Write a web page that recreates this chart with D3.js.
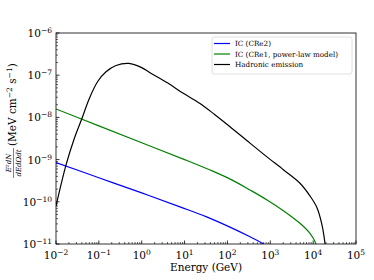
<!DOCTYPE html>
<html><head><meta charset="utf-8">
<script src="https://cdn.jsdelivr.net/npm/d3@7"></script>
<style>body{margin:0;background:#fff}svg{display:block}text{font-family:"DejaVu Serif",serif;fill:#000}</style>
</head><body><svg id="c" width="374" height="280"></svg>
<script>
// log10 of energy (GeV) and log10 of flux (MeV cm^-2 s^-1)
const hadronicLogE = [-2, -1.767, -1.573, -1.393, -1.222, -1.027, -0.833, -0.6, -0.3, 0.0, 0.193, 0.6, 0.97, 1.36, 1.7, 2.06, 2.527, 2.916, 3.305, 3.693, 3.926, 4.08, 4.198, 4.276, 4.295];
const hadronicLogF = [-10.1, -9.13, -8.50, -8.02, -7.55, -7.15, -6.92, -6.77, -6.72, -6.82, -6.94, -7.18, -7.43, -7.67, -7.93, -8.22, -8.61, -8.93, -9.24, -9.56, -9.86, -10.12, -10.51, -10.98, -11.2];
const icCRe1LogE = [-2, -1, 0, 1, 1.67, 2.1, 2.527, 2.916, 3.305, 3.693, 3.926, 4.058, 4.075];
const icCRe1LogF = [-7.80, -8.20, -8.60, -9.00, -9.28, -9.48, -9.72, -9.95, -10.21, -10.51, -10.75, -10.98, -11.1];
const icCRe2LogE = [-2, -1, 0, 0.893, 1.5, 2.06, 2.527, 2.84, 2.87];
const icCRe2LogF = [-9.07, -9.43, -9.79, -10.12, -10.35, -10.6, -10.83, -11.0, -11.05];
const seriesNames = ["IC (CRe2)", "IC (CRe1, power-law model)", "Hadronic emission"];
const seriesColors = ["#0000ff", "#008000", "#000000"];
const xTickExps = [-2, -1, 0, 1, 2, 3, 4, 5];
const yTickExps = [-11, -10, -9, -8, -7, -6];

const svg = d3.select("#c");
const L = 56, R = 356, T = 33, B = 244;
const x = d3.scaleLog().domain([1e-2, 1e5]).range([L, R]);
const y = d3.scaleLog().domain([1e-11, 1e-6]).range([B, T]);

// minor ticks
const g = svg.append("g");
const minorX = [], minorY = [];
for (let e = -2; e < 5; e++) for (let m = 2; m <= 9; m++) minorX.push(m * 10 ** e);
for (let e = -11; e < -6; e++) for (let m = 2; m <= 9; m++) minorY.push(m * 10 ** e);
g.selectAll(".mx").data(minorX).join("line").attr("x1", d => x(d)).attr("x2", d => x(d)).attr("y1", B).attr("y2", B - 2).attr("stroke", "#000").attr("stroke-width", 0.6);
g.selectAll(".my").data(minorY).join("line").attr("y1", d => y(d)).attr("y2", d => y(d)).attr("x1", L).attr("x2", L + 2).attr("stroke", "#000").attr("stroke-width", 0.6);
g.selectAll(".Mx").data(xTickExps).join("line").attr("x1", d => x(10 ** d)).attr("x2", d => x(10 ** d)).attr("y1", B).attr("y2", B - 3.5).attr("stroke", "#000").attr("stroke-width", 0.8);
g.selectAll(".My").data(yTickExps).join("line").attr("y1", d => y(10 ** d)).attr("y2", d => y(10 ** d)).attr("x1", L).attr("x2", L + 3.5).attr("stroke", "#000").attr("stroke-width", 0.8);

// tick labels
const xl = svg.append("g").selectAll("text").data(xTickExps).join("text")
  .attr("x", d => x(10 ** d)).attr("y", 259).attr("text-anchor", "middle").attr("font-size", 10.5);
xl.append("tspan").text("10");
xl.append("tspan").attr("dy", -4).attr("font-size", 7.5).text(d => d < 0 ? "\u2212" + (-d) : d);
const yl = svg.append("g").selectAll("text").data(yTickExps).join("text")
  .attr("x", 52).attr("y", d => y(10 ** d) + 4).attr("text-anchor", "end").attr("font-size", 10.5);
yl.append("tspan").text("10");
yl.append("tspan").attr("dy", -4).attr("font-size", 7.5).text(d => "\u2212" + (-d));

// axis labels
svg.append("text").attr("x", 206).attr("y", 271).attr("text-anchor", "middle").attr("font-size", 10.5).text("Energy (GeV)");
const yLab = svg.append("g").attr("transform", "translate(16,110) rotate(-90)");
const yt = yLab.append("text").attr("x", -36).attr("y", 0).attr("text-anchor", "start").attr("font-size", 10.5);
yt.append("tspan").text("(MeV cm");
yt.append("tspan").attr("dy", -4).attr("font-size", 7.5).text("\u22122");
yt.append("tspan").attr("dy", 4).text(" s");
yt.append("tspan").attr("dy", -4).attr("font-size", 7.5).text("\u22121");
yt.append("tspan").attr("dy", 4).text(")");
// fraction
yLab.append("text").attr("x", -53).attr("y", -5).attr("text-anchor", "middle").attr("font-size", 7).attr("font-style", "italic").text("E\u00B2dN");
yLab.append("line").attr("x1", -68).attr("x2", -38).attr("y1", -2.5).attr("y2", -2.5).attr("stroke", "#000").attr("stroke-width", 0.5);
yLab.append("text").attr("x", -53).attr("y", 4.5).attr("text-anchor", "middle").attr("font-size", 7).attr("font-style", "italic").text("dEd\u03A9dt");

// lines
const line = d3.line().x(d => x(10 ** d[0])).y(d => y(10 ** d[1])).curve(d3.curveCatmullRom.alpha(0.5));
const series = [[icCRe2LogE, icCRe2LogF], [icCRe1LogE, icCRe1LogF], [hadronicLogE, hadronicLogF]];
svg.append("defs").append("clipPath").attr("id", "clip").append("rect").attr("x", L).attr("y", T).attr("width", R - L).attr("height", B - T);
svg.append("g").attr("clip-path", "url(#clip)").selectAll("path").data(series).join("path")
  .attr("d", s => line(s[0].map((e, i) => [e, s[1][i]])))
  .attr("fill", "none").attr("stroke", (d, i) => seriesColors[i]).attr("stroke-width", 1.2);

// frame
svg.append("rect").attr("x", L).attr("y", T).attr("width", R - L).attr("height", B - T).attr("fill", "none").attr("stroke", "#000").attr("stroke-width", 0.8);

// legend
const lg = svg.append("g");
lg.append("rect").attr("x", 212).attr("y", 37).attr("width", 140).attr("height", 37).attr("rx", 2).attr("fill", "#fff").attr("stroke", "#d8d8d8").attr("stroke-width", 0.8);
seriesNames.forEach((n, i) => {
  const yy = 43.5 + i * 10.5;
  lg.append("line").attr("x1", 214).attr("x2", 230).attr("y1", yy).attr("y2", yy).attr("stroke", seriesColors[i]).attr("stroke-width", 1.2);
  lg.append("text").attr("x", 235).attr("y", yy + 2.5).attr("font-size", 7.2).text(n);
});
</script></body></html>
